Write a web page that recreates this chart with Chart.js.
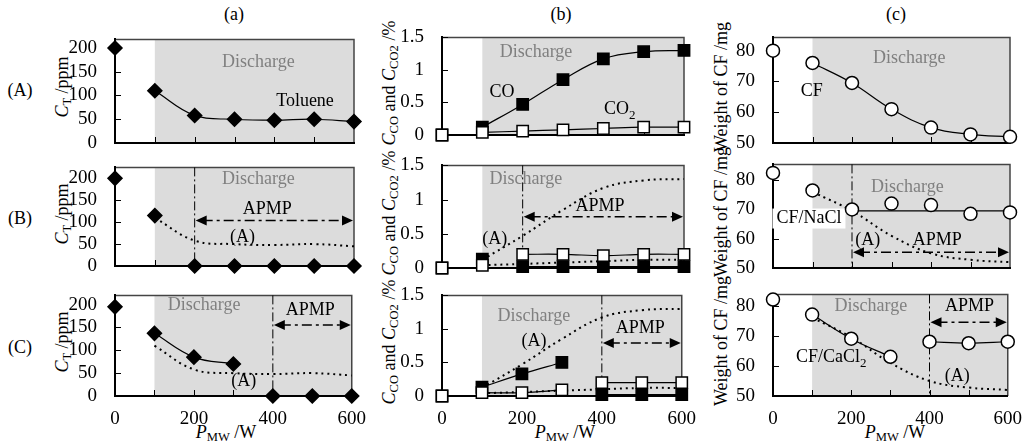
<!DOCTYPE html>
<html>
<head>
<meta charset="utf-8">
<script src="https://cdn.jsdelivr.net/npm/chart.js@4.4.1/dist/chart.umd.min.js"></script>
<style>
body { margin: 0; background: #fff; }
#page { position: relative; width: 1023px; height: 441px; overflow: hidden; font-family: "Liberation Serif", serif; color: #000; }
#page canvas { position: absolute; }
.lbl { position: absolute; font-size: 18px; white-space: nowrap; transform: translate(-50%, -50%); }
.ytitle { position: absolute; font-size: 18px; white-space: nowrap; transform: translate(-50%, -50%) rotate(-90deg); }
sub { font-size: 0.7em; vertical-align: -0.3em; line-height: 0; }
</style>
</head>
<body>
<div id="page">
  <div class="lbl" style="left:234px;top:14px">(a)</div>
  <div class="lbl" style="left:561px;top:14px">(b)</div>
  <div class="lbl" style="left:896px;top:14px">(c)</div>

  <div class="lbl" style="left:20px;top:90px">(A)</div>
  <div class="lbl" style="left:20px;top:218px">(B)</div>
  <div class="lbl" style="left:20px;top:347px">(C)</div>

  <div class="ytitle" style="left:62px;top:87px"><i>C</i><sub>T</sub> /ppm</div>
  <div class="ytitle" style="left:62px;top:214px"><i>C</i><sub>T</sub> /ppm</div>
  <div class="ytitle" style="left:62px;top:342px"><i>C</i><sub>T</sub> /ppm</div>
  <div class="ytitle" style="left:389px;top:83px"><i>C</i><sub>CO</sub> and <i>C</i><sub>CO2</sub> /%</div>
  <div class="ytitle" style="left:389px;top:213px"><i>C</i><sub>CO</sub> and <i>C</i><sub>CO2</sub> /%</div>
  <div class="ytitle" style="left:389px;top:342px"><i>C</i><sub>CO</sub> and <i>C</i><sub>CO2</sub> /%</div>
  <div class="ytitle" style="left:721px;top:87px">Weight of CF /mg</div>
  <div class="ytitle" style="left:721px;top:212px">Weight of CF /mg</div>
  <div class="ytitle" style="left:721px;top:341px">Weight of CF /mg</div>

  <div class="lbl" style="left:226px;top:432px"><i>P</i><sub>MW</sub> /W</div>
  <div class="lbl" style="left:565px;top:432px"><i>P</i><sub>MW</sub> /W</div>
  <div class="lbl" style="left:895px;top:432px"><i>P</i><sub>MW</sub> /W</div>
</div>
<script>
// データここから
const power = [0, 100, 200, 300, 400, 500, 600];
const xTickValues = [0, 200, 400, 600];
const tolueneTicks = [0, 50, 100, 150, 200];
const gasTicks = [0, 0.5, 1, 1.5];
const cfTicks = [50, 60, 70, 80];

// (a) トルエン濃度
const tolueneA = [200, 110, 58, 50, 48, 50, 45];
const tolueneB = [200, 115, 0, 0, 0, 0, 0];
const tolueneC = [195, 137, 85, 70, 0, 0, 0];

// (b) CO, CO2 濃度
const coA = [0, 0.12, 0.47, 0.85, 1.17, 1.28, 1.3];
const co2A = [0, 0.04, 0.06, 0.08, 0.1, 0.12, 0.12];
const coB = [0, 0.13, 0.02, 0.02, 0.02, 0.02, 0.02];
const co2B = [0, 0.04, 0.2, 0.2, 0.18, 0.2, 0.2];
const coC = [0, 0.13, 0.33, 0.5, 0.02, 0.02, 0.02];
const co2C = [0, 0.05, 0.05, 0.09, 0.2, 0.2, 0.2];

// (c) CF重量
const cfA = [80, 76, 69.5, 61, 55, 52.8, 52];
const cfB = [82.5, 76.5, 70, 72, 71.5, 68.5, 69];
const cfBFit = [null, null, 69.5, 69.5, 69.5, 69.5, 69.5];
const cfC = [82, 77, 69, 63, 68, 67.5, 68];
// データここまで

const page = document.getElementById("page");
const FONT = "'Liberation Serif', serif";

// 点列の作成
function pts(vals, from, to) {
    let out = [];
    for (let i = from; i <= to; i++) {
        out.push({ x: power[i], y: vals[i] });
    }
    return out;
}

function markers(vals, style, fill, r, order) {
    return {
        data: pts(vals, 0, 6),
        showLine: false,
        pointStyle: style,
        pointRadius: r,
        pointBackgroundColor: fill,
        pointBorderColor: "#000",
        pointBorderWidth: 1.5,
        order: order,
        clip: false,
    };
}

function solid(data) {
    return {
        data: data,
        borderColor: "#000",
        borderWidth: 1.2,
        pointRadius: 0,
        tension: 0.4,
        order: 5,
        clip: false,
    };
}

function dotted(data) {
    return {
        data: data,
        borderColor: "#000",
        borderWidth: 2,
        borderDash: [2, 4],
        pointRadius: 0,
        tension: 0.4,
        order: 6,
        clip: false,
    };
}

// 矢印
function arrowHead(ctx, x, y, dir) {
    ctx.beginPath();
    ctx.moveTo(x, y);
    ctx.lineTo(x - dir * 11, y - 5);
    ctx.lineTo(x - dir * 11, y + 5);
    ctx.closePath();
    ctx.fill();
}

// 下付き文字を含むテキスト
function drawText(ctx, item, px, py) {
    let parts = item.s.split("_");
    ctx.font = "18px " + FONT;
    let w0 = ctx.measureText(parts[0]).width;
    let w1 = 0;
    if (parts[1]) {
        ctx.font = "13px " + FONT;
        w1 = ctx.measureText(parts[1]).width;
    }
    let left = px - (w0 + w1) / 2;
    if (item.bg) {
        ctx.fillStyle = "#fff";
        ctx.fillRect(left - 4, py - 10, w0 + w1 + 8, 20);
    }
    ctx.fillStyle = item.gray ? "#808080" : "#000";
    ctx.textBaseline = "middle";
    ctx.textAlign = "left";
    ctx.font = "18px " + FONT;
    ctx.fillText(parts[0], left, py);
    if (parts[1]) {
        ctx.font = "13px " + FONT;
        ctx.fillText(parts[1], left + w0, py + 6);
    }
}

const decoPlugin = {
    id: "deco",
    beforeDraw(chart, args, o) {
        const { ctx, chartArea: a, scales } = chart;
        const x1 = scales.x.getPixelForValue(100);
        ctx.save();
        ctx.fillStyle = "#dcdcdc";
        ctx.fillRect(x1, a.top, a.right - x1, a.bottom - a.top);
        ctx.strokeStyle = "#444";
        ctx.lineWidth = 1.5;
        ctx.beginPath();
        ctx.moveTo(a.left, a.top);
        ctx.lineTo(a.right, a.top);
        ctx.lineTo(a.right, a.bottom);
        ctx.stroke();
        ctx.restore();
    },
    beforeDatasetsDraw(chart, args, o) {
        const { ctx, chartArea: a, scales } = chart;
        ctx.save();
        // 内向き目盛り
        ctx.strokeStyle = "#000";
        ctx.lineWidth = 1;
        ctx.beginPath();
        for (let v of [100, 200, 300, 400, 500]) {
            const px = Math.round(scales.x.getPixelForValue(v)) + 0.5;
            ctx.moveTo(px, a.bottom);
            ctx.lineTo(px, a.bottom - 6);
        }
        for (let t of scales.y.ticks) {
            const py = Math.round(scales.y.getPixelForValue(t.value)) + 0.5;
            ctx.moveTo(a.left, py);
            ctx.lineTo(a.left + 6, py);
        }
        ctx.stroke();
        for (let item of o.texts || []) {
            drawText(ctx, item, scales.x.getPixelForValue(item.x), scales.y.getPixelForValue(item.y));
        }
        if (o.apmp !== undefined) {
            const xs = scales.x.getPixelForValue(o.apmp);
            const xe = scales.x.getPixelForValue(600);
            const ya = scales.y.getPixelForValue(o.arrowY);
            ctx.strokeStyle = "#000";
            ctx.lineWidth = 1;
            ctx.setLineDash([9, 3, 2, 3]);
            ctx.beginPath();
            ctx.moveTo(xs, a.top);
            ctx.lineTo(xs, a.bottom);
            ctx.stroke();
            ctx.lineWidth = 1.5;
            ctx.setLineDash([10, 4, 3, 4]);
            ctx.beginPath();
            ctx.moveTo(xs + 8, ya);
            ctx.lineTo(xe - 8, ya);
            ctx.stroke();
            ctx.setLineDash([]);
            ctx.fillStyle = "#000";
            arrowHead(ctx, xs + 1, ya, -1);
            arrowHead(ctx, xe - 1, ya, 1);
        }
        ctx.restore();
    },
};

// パネル作成
function makePanel(box, yMin, yMax, yTicks, datasets, deco, showX) {
    const padL = 70, padT = 14, padR = 16, padB = 32;
    const cv = document.createElement("canvas");
    cv.width = box.r - box.l + padL + padR;
    cv.height = box.b - box.t + padT + padB;
    cv.style.left = box.l - padL + "px";
    cv.style.top = box.t - padT + "px";
    page.appendChild(cv);
    const tickFont = { family: FONT, size: 19 };
    return new Chart(cv, {
        type: "line",
        data: { datasets: datasets },
        options: {
            responsive: false,
            animation: false,
            events: [],
            layout: { padding: { top: padT, right: padR, left: 0, bottom: 0 }, autoPadding: false },
            plugins: { legend: { display: false }, tooltip: { enabled: false }, deco: deco },
            scales: {
                x: {
                    type: "linear",
                    min: 0,
                    max: 600,
                    grid: { display: false },
                    border: { color: "#000", width: 2 },
                    ticks: { display: showX, autoSkip: false, maxRotation: 0, color: "#000", padding: 4, font: tickFont, callback: (v) => String(v) },
                    afterBuildTicks(s) { s.ticks = xTickValues.map((v) => ({ value: v })); },
                    afterFit(s) { s.height = padB; },
                },
                y: {
                    type: "linear",
                    min: yMin,
                    max: yMax,
                    grid: { display: false },
                    border: { color: "#000", width: 2 },
                    ticks: { autoSkip: false, color: "#000", padding: 10, font: tickFont, callback: (v) => String(v) },
                    afterBuildTicks(s) { s.ticks = yTicks.map((v) => ({ value: v })); },
                    afterFit(s) { s.width = padL; },
                },
            },
        },
        plugins: [decoPlugin],
    });
}

const diamond = (vals) => markers(vals, "rectRot", "#000", 7, 0);
const blackSq = (vals) => markers(vals, "rect", "#000", 8, 1);
const whiteSq = (vals) => markers(vals, "rect", "#fff", 8, 0);
const circle = (vals) => markers(vals, "circle", "#fff", 6.5, 0);

// (a) 列
makePanel({ l: 115, t: 32, r: 354, b: 143 }, 0, 218, tolueneTicks,
    [diamond(tolueneA), solid(pts(tolueneA, 1, 6))],
    { texts: [{ s: "Discharge", x: 360, y: 170, gray: true }, { s: "Toluene", x: 477, y: 88 }] }, false);
makePanel({ l: 115, t: 160, r: 354, b: 266 }, 0, 225, tolueneTicks,
    [diamond(tolueneB), dotted(pts(tolueneA, 1, 6))],
    { apmp: 200, arrowY: 104, texts: [{ s: "Discharge", x: 360, y: 198, gray: true }, { s: "APMP", x: 382, y: 130 }, { s: "(A)", x: 320, y: 66 }] }, false);
makePanel({ l: 115, t: 288, r: 354, b: 396 }, 0, 220, tolueneTicks,
    [diamond(tolueneC), solid(pts(tolueneC, 1, 3)), dotted(pts(tolueneA, 1, 6))],
    { apmp: 400, arrowY: 155, texts: [{ s: "Discharge", x: 226, y: 198, gray: true }, { s: "APMP", x: 495, y: 188 }, { s: "(A)", x: 326, y: 33 }] }, true);

// (b) 列
makePanel({ l: 442, t: 30, r: 684, b: 135 }, 0, 1.5, gasTicks,
    [whiteSq(co2A), blackSq(coA), solid(pts(coA, 1, 6)), solid(pts(co2A, 1, 6))],
    { texts: [{ s: "Discharge", x: 233, y: 1.27, gray: true }, { s: "CO", x: 149, y: 0.66 }, { s: "CO_2", x: 441, y: 0.39 }] }, false);
makePanel({ l: 442, t: 158, r: 684, b: 268 }, 0, 1.5, gasTicks,
    [whiteSq(co2B), blackSq(coB), solid(pts(co2B, 2, 6)), solid(pts(coB, 2, 6)), dotted(pts(coA, 1, 6)), dotted(pts(co2A, 1, 6))],
    { apmp: 200, arrowY: 0.75, texts: [{ s: "Discharge", x: 208, y: 1.3, gray: true }, { s: "APMP", x: 392, y: 0.9 }, { s: "(A)", x: 131, y: 0.42 }] }, false);
makePanel({ l: 442, t: 288, r: 684, b: 396 }, 0, 1.5, gasTicks,
    [whiteSq(co2C), blackSq(coC), solid(pts(coC, 1, 3)), solid(pts(co2C, 1, 3)), solid(pts(co2C, 4, 6)), solid(pts(coC, 4, 6)), dotted(pts(coA, 1, 6)), dotted(pts(co2A, 1, 6))],
    { apmp: 400, arrowY: 0.79, texts: [{ s: "Discharge", x: 230, y: 1.19, gray: true }, { s: "APMP", x: 496, y: 1.01 }, { s: "(A)", x: 230, y: 0.82 }] }, true);

// (c) 列
makePanel({ l: 773, t: 30, r: 1010, b: 143 }, 50, 84.3, cfTicks,
    [circle(cfA), solid(pts(cfA, 1, 6))],
    { texts: [{ s: "Discharge", x: 345, y: 77.6, gray: true }, { s: "CF", x: 98, y: 66.7 }] }, false);
makePanel({ l: 773, t: 157, r: 1010, b: 268 }, 50, 85.4, cfTicks,
    [circle(cfB), solid(pts(cfBFit, 2, 6)), dotted(pts(cfA, 1, 6))],
    { apmp: 200, arrowY: 55.4, texts: [{ s: "Discharge", x: 340, y: 77.5, gray: true }, { s: "CF/NaCl", x: 91, y: 66.9, bg: true }, { s: "(A)", x: 240, y: 59.6 }, { s: "APMP", x: 416, y: 59.6 }] }, false);
makePanel({ l: 773, t: 287, r: 1010, b: 396 }, 50, 83.7, cfTicks,
    [circle(cfC), solid(pts(cfC, 1, 3)), solid(pts(cfC, 4, 6)), dotted(pts(cfA, 1, 6))],
    { apmp: 400, arrowY: 74.5, texts: [{ s: "Discharge", x: 250, y: 79.7, gray: true }, { s: "APMP", x: 502, y: 79.7 }, { s: "CF/CaCl_2", x: 149, y: 62.7 }, { s: "(A)", x: 471, y: 56.5 }] }, true);
</script>
</body>
</html>
